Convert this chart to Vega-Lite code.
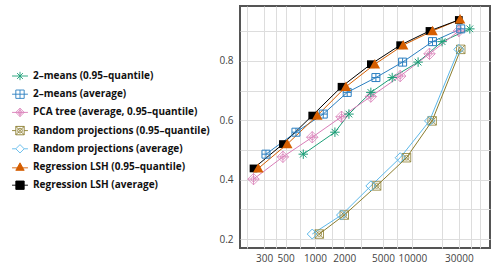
{
  "$schema": "https://vega.github.io/schema/vega-lite/v6.json",
  "width": 250,
  "height": 242,
  "autosize": {"type": "none"},
  "padding": {"left": 240, "top": 6, "right": 8, "bottom": 20},
  "config": {
    "font": "Open Sans",
    "view": {"stroke": "#555555", "strokeWidth": 2},
    "axis": {"domain": false, "ticks": false, "gridColor": "#dddddd", "gridWidth": 1, "labelFont": "Open Sans", "labelFontSize": 10, "labelColor": "#444444", "title": null},
    "point": {"opacity": 1}
  },
  "datasets": {
    "pts": [
      {"series": "2–means (0.95–quantile)", "n": 759, "recall": 0.486},
      {"series": "2–means (0.95–quantile)", "n": 1603, "recall": 0.560},
      {"series": "2–means (0.95–quantile)", "n": 2233, "recall": 0.621},
      {"series": "2–means (0.95–quantile)", "n": 3750, "recall": 0.694},
      {"series": "2–means (0.95–quantile)", "n": 6210, "recall": 0.744},
      {"series": "2–means (0.95–quantile)", "n": 11460, "recall": 0.796},
      {"series": "2–means (0.95–quantile)", "n": 20200, "recall": 0.865},
      {"series": "2–means (0.95–quantile)", "n": 38900, "recall": 0.908},
      {"series": "2–means (average)", "n": 314, "recall": 0.486},
      {"series": "2–means (average)", "n": 638, "recall": 0.560},
      {"series": "2–means (average)", "n": 1217, "recall": 0.621},
      {"series": "2–means (average)", "n": 2144, "recall": 0.694},
      {"series": "2–means (average)", "n": 4225, "recall": 0.744},
      {"series": "2–means (average)", "n": 7943, "recall": 0.796},
      {"series": "2–means (average)", "n": 16100, "recall": 0.865},
      {"series": "2–means (average)", "n": 31400, "recall": 0.908},
      {"series": "PCA tree (average, 0.95–quantile)", "n": 234, "recall": 0.402},
      {"series": "PCA tree (average, 0.95–quantile)", "n": 469, "recall": 0.477},
      {"series": "PCA tree (average, 0.95–quantile)", "n": 938, "recall": 0.543},
      {"series": "PCA tree (average, 0.95–quantile)", "n": 1875, "recall": 0.612},
      {"series": "PCA tree (average, 0.95–quantile)", "n": 3750, "recall": 0.680},
      {"series": "PCA tree (average, 0.95–quantile)", "n": 7500, "recall": 0.749},
      {"series": "PCA tree (average, 0.95–quantile)", "n": 15000, "recall": 0.824},
      {"series": "PCA tree (average, 0.95–quantile)", "n": 30000, "recall": 0.901},
      {"series": "Random projections (0.95–quantile)", "n": 1107, "recall": 0.217},
      {"series": "Random projections (0.95–quantile)", "n": 2000, "recall": 0.281},
      {"series": "Random projections (0.95–quantile)", "n": 4297, "recall": 0.379},
      {"series": "Random projections (0.95–quantile)", "n": 8710, "recall": 0.474},
      {"series": "Random projections (0.95–quantile)", "n": 15960, "recall": 0.598},
      {"series": "Random projections (0.95–quantile)", "n": 31400, "recall": 0.839},
      {"series": "Random projections (average)", "n": 938, "recall": 0.217},
      {"series": "Random projections (average)", "n": 1875, "recall": 0.281},
      {"series": "Random projections (average)", "n": 3750, "recall": 0.379},
      {"series": "Random projections (average)", "n": 7500, "recall": 0.474},
      {"series": "Random projections (average)", "n": 15000, "recall": 0.598},
      {"series": "Random projections (average)", "n": 30000, "recall": 0.839},
      {"series": "Regression LSH (0.95–quantile)", "n": 262, "recall": 0.438},
      {"series": "Regression LSH (0.95–quantile)", "n": 520, "recall": 0.520},
      {"series": "Regression LSH (0.95–quantile)", "n": 1056, "recall": 0.616},
      {"series": "Regression LSH (0.95–quantile)", "n": 2080, "recall": 0.713},
      {"series": "Regression LSH (0.95–quantile)", "n": 4120, "recall": 0.789},
      {"series": "Regression LSH (0.95–quantile)", "n": 8050, "recall": 0.853},
      {"series": "Regression LSH (0.95–quantile)", "n": 16100, "recall": 0.901},
      {"series": "Regression LSH (0.95–quantile)", "n": 30900, "recall": 0.940},
      {"series": "Regression LSH (average)", "n": 234, "recall": 0.438},
      {"series": "Regression LSH (average)", "n": 469, "recall": 0.520},
      {"series": "Regression LSH (average)", "n": 938, "recall": 0.616},
      {"series": "Regression LSH (average)", "n": 1875, "recall": 0.713},
      {"series": "Regression LSH (average)", "n": 3750, "recall": 0.789},
      {"series": "Regression LSH (average)", "n": 7500, "recall": 0.853},
      {"series": "Regression LSH (average)", "n": 15000, "recall": 0.901},
      {"series": "Regression LSH (average)", "n": 30000, "recall": 0.938}
    ]
  },
  "data": {"name": "pts"},
  "encoding": {
    "x": {
      "field": "n", "type": "quantitative",
      "scale": {"type": "log", "domain": [170, 62700], "nice": false},
      "axis": {
        "values": [200, 300, 400, 500, 700, 1000, 1500, 2000, 3000, 5000, 7000, 10000, 20000, 30000, 40000, 50000],
        "format": "d",
        "labelExpr": "indexof([300,500,1000,2000,5000,10000,30000], datum.value) >= 0 ? datum.label : ''",
        "labelPadding": 5,
        "labelFlush": false,
        "labelOverlap": false
      }
    },
    "y": {
      "field": "recall", "type": "quantitative",
      "scale": {"domain": [0.17, 0.985], "nice": false, "zero": false},
      "axis": {
        "values": [0.2, 0.3, 0.4, 0.5, 0.6, 0.7, 0.8, 0.9],
        "format": ".1f",
        "labelExpr": "round(datum.value*10) % 2 == 0 ? datum.label : ''",
        "labelPadding": 7,
        "labelOverlap": false
      }
    }
  },
  "layer": [
    {
      "mark": {"type": "line", "strokeWidth": 1},
      "encoding": {
        "stroke": {
          "field": "series", "type": "nominal", "legend": null,
          "scale": {
            "range": ["#1b9e77", "#2b7fc1", "#d97db8", "#8b7d2e", "#5cb8ea", "#d55e00", "#000000"]
          }
        }
      }
    },
    {
      "transform": [{"filter": "datum.series === 'Random projections (0.95–quantile)'"}],
      "mark": {"type": "point", "filled": false, "color": "#8b7d2e", "strokeWidth": 0.8, "size": 72, "shape": "M-1,-1H1V1H-1ZM-1,-1L1,1M-1,1L1,-1M0.55,0A0.55,0.55 0 1,1 -0.55,0A0.55,0.55 0 1,1 0.55,0"}
    },
    {
      "transform": [{"filter": "datum.series === 'Random projections (average)'"}],
      "mark": {"type": "point", "filled": false, "color": "#5cb8ea", "strokeWidth": 1, "size": 100, "shape": "M0,-1L1,0L0,1L-1,0Z"}
    },
    {
      "transform": [{"filter": "datum.series === 'PCA tree (average, 0.95–quantile)'"}],
      "mark": {"type": "point", "filled": false, "color": "#d97db8", "strokeWidth": 0.8, "size": 130, "shape": "M0,-1L1,0L0,1L-1,0ZM-1,0H1M0,-1V1M0.42,0A0.42,0.42 0 1,1 -0.42,0A0.42,0.42 0 1,1 0.42,0"}
    },
    {
      "transform": [{"filter": "datum.series === '2–means (0.95–quantile)'"}],
      "mark": {"type": "point", "filled": false, "color": "#1b9e77", "strokeWidth": 1, "size": 90, "shape": "M-1,0H1M0,-1V1M-0.7,-0.7L0.7,0.7M-0.7,0.7L0.7,-0.7"}
    },
    {
      "transform": [{"filter": "datum.series === '2–means (average)'"}],
      "mark": {"type": "point", "filled": false, "color": "#2b7fc1", "strokeWidth": 1, "size": 64, "shape": "M-1,-1H1V1H-1ZM-1,0H1M0,-1V1"}
    },
    {
      "transform": [{"filter": "datum.series === 'Regression LSH (average)'"}],
      "mark": {"type": "point", "filled": true, "color": "#000000", "size": 60, "shape": "M-1,-1H1V1H-1Z"}
    },
    {
      "transform": [{"filter": "datum.series === 'Regression LSH (0.95–quantile)'"}],
      "mark": {"type": "point", "filled": true, "color": "#d55e00", "size": 110, "shape": "M0,-1L1,0.8L-1,0.8Z"}
    },
    {
      "transform": [{"filter": "false"}],
      "mark": {"type": "point", "filled": false, "strokeWidth": 0.9},
      "encoding": {
        "color": {
          "field": "series", "type": "nominal",
          "scale": {
            "domain": ["2–means (0.95–quantile)", "2–means (average)", "PCA tree (average, 0.95–quantile)", "Random projections (0.95–quantile)", "Random projections (average)", "Regression LSH (0.95–quantile)", "Regression LSH (average)"],
            "range": ["#1b9e77", "#2b7fc1", "#d97db8", "#8b7d2e", "#5cb8ea", "#d55e00", "#000000"]
          },
          "legend": {
            "orient": "none", "legendX": -229, "legendY": 65,
            "title": null,
            "symbolSize": 70, "symbolStrokeWidth": 0.9,
            "labelFont": "Open Sans", "labelFontSize": 10, "labelFontWeight": "bold", "labelColor": "#111111",
            "labelOffset": 8, "rowPadding": 6.2, "symbolOffset": 4,
            "labelLimit": 300
          }
        },
        "fill": {
          "field": "series", "type": "nominal",
          "scale": {
            "domain": ["2–means (0.95–quantile)", "2–means (average)", "PCA tree (average, 0.95–quantile)", "Random projections (0.95–quantile)", "Random projections (average)", "Regression LSH (0.95–quantile)", "Regression LSH (average)"],
            "range": ["transparent", "transparent", "transparent", "transparent", "transparent", "#d55e00", "#000000"]
          },
          "legend": {
            "orient": "none", "legendX": -229, "legendY": 65,
            "title": null,
            "symbolSize": 70, "symbolStrokeWidth": 0.9,
            "labelFont": "Open Sans", "labelFontSize": 10, "labelFontWeight": "bold", "labelColor": "#111111",
            "labelOffset": 8, "rowPadding": 6.2, "symbolOffset": 4,
            "labelLimit": 300
          }
        },
        "shape": {
          "field": "series", "type": "nominal",
          "scale": {
            "domain": ["2–means (0.95–quantile)", "2–means (average)", "PCA tree (average, 0.95–quantile)", "Random projections (0.95–quantile)", "Random projections (average)", "Regression LSH (0.95–quantile)", "Regression LSH (average)"],
            "range": [
              "M-1.9,0H1.9M0,-1V1M-0.7,-0.7L0.7,0.7M-0.7,0.7L0.7,-0.7",
              "M-1,-1H1V1H-1ZM-1.9,0H1.9M0,-1V1",
              "M0,-1L1,0L0,1L-1,0ZM-1.9,0H1.9M0,-1V1M0.42,0A0.42,0.42 0 1,1 -0.42,0A0.42,0.42 0 1,1 0.42,0",
              "M-1,-1H1V1H-1ZM-1,-1L1,1M-1,1L1,-1M0.55,0A0.55,0.55 0 1,1 -0.55,0A0.55,0.55 0 1,1 0.55,0M-1.9,0H-1M1,0H1.9",
              "M0,-1L1,0L0,1L-1,0ZM-1.9,0H-1M1,0H1.9",
              "M0,-1L1,0.8L-1,0.8ZM-1.9,0.2H1.9",
              "M-1,-1H1V1H-1ZM-1.9,0H1.9"
            ]
          },
          "legend": {
            "orient": "none", "legendX": -229, "legendY": 65,
            "title": null,
            "symbolSize": 70, "symbolStrokeWidth": 0.9,
            "labelFont": "Open Sans", "labelFontSize": 10, "labelFontWeight": "bold", "labelColor": "#111111",
            "labelOffset": 8, "rowPadding": 6.2, "symbolOffset": 4,
            "labelLimit": 300
          }
        }
      }
    }
  ]
}
